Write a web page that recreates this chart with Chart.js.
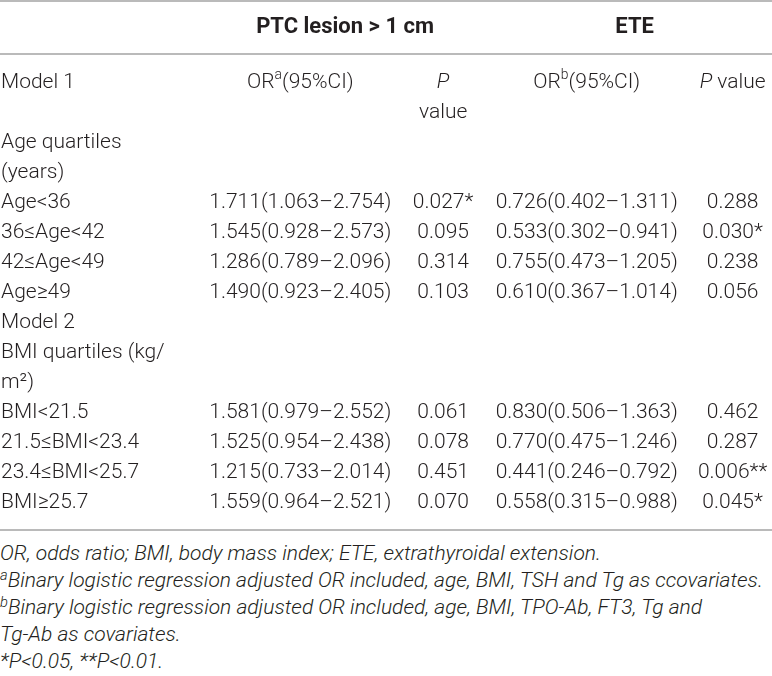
<!DOCTYPE html>
<html>
<head>
<meta charset="utf-8">
<title>PTC lesion and ETE odds ratios</title>
<script src="https://cdn.jsdelivr.net/npm/chart.js@4.4.1/dist/chart.umd.min.js"></script>
<style>
  body { margin: 0; background: #fff; }
  #wrap { position: relative; width: 772px; height: 540px; }
  .notes { font-family: Roboto, "Liberation Sans", sans-serif; font-weight: 300; font-style: italic;
           font-size: 21px; line-height: 27px; color: #231f20; width: 772px; }
  .notes p { margin: 0; white-space: nowrap; }
  .notes sup { font-size: 0.7em; line-height: 0; vertical-align: 0.45em; }
</style>
</head>
<body>
<div id="wrap"><canvas id="table"></canvas></div>
<div class="notes">
  <p>OR, odds ratio; BMI, body mass index; ETE, extrathyroidal extension.</p>
  <p><sup>a</sup>Binary logistic regression adjusted OR included, age, BMI, TSH and Tg as ccovariates.</p>
  <p><sup>b</sup>Binary logistic regression adjusted OR included, age, BMI, TPO-Ab, FT3, Tg and</p>
  <p>Tg-Ab as covariates.</p>
  <p>*P&lt;0.05, **P&lt;0.01.</p>
</div>
<script>
// table content
const rowLines = ["Model 1", "", "Age quartiles", "(years)", "Age<36", "36≤Age<42", "42≤Age<49", "Age≥49",
  "Model 2", "BMI quartiles (kg/", "m²)", "BMI<21.5", "21.5≤BMI<23.4", "23.4≤BMI<25.7", "BMI≥25.7"];
const groups = ["PTC lesion > 1 cm", "ETE"];
// ^x^ = superscript, _x_ = italic; one entry per text line
const colHeads = [["OR^a^(95%CI)"], ["_P_", "value"], ["OR^b^(95%CI)"], ["_P_ value"]];

const dataRows = ["Age<36", "36≤Age<42", "42≤Age<49", "Age≥49", "BMI<21.5", "21.5≤BMI<23.4", "23.4≤BMI<25.7", "BMI≥25.7"];
const orPTC = ["1.711(1.063–2.754)", "1.545(0.928–2.573)", "1.286(0.789–2.096)", "1.490(0.923–2.405)",
  "1.581(0.979–2.552)", "1.525(0.954–2.438)", "1.215(0.733–2.014)", "1.559(0.964–2.521)"];
const pPTC = ["0.027*", "0.095", "0.314", "0.103", "0.061", "0.078", "0.451", "0.070"];
const orETE = ["0.726(0.402–1.311)", "0.533(0.302–0.941)", "0.755(0.473–1.205)", "0.610(0.367–1.014)",
  "0.830(0.506–1.363)", "0.770(0.475–1.246)", "0.441(0.246–0.792)", "0.558(0.315–0.988)"];
const pETE = ["0.288", "0.030*", "0.238", "0.056", "0.462", "0.287", "0.006**", "0.045*"];

// layout: column centres in % of the table width
const colX = [38.9, 57.4, 76.0, 94.9];
const groupX = [44.7, 82.2];

const FAMILY = "Roboto, 'Liberation Sans', sans-serif";
const TEXT = "#231f20";
const RULE = "#a3a3a3";
const SIZE = 21;

// Draw one line of text with optional superscripts / italics, centred on x
function drawRich(ctx, str, x, y) {
  const parts = str.split(/(\^[^^]+\^|_[^_]+_)/).filter(s => s !== "").map(s => {
    if (s[0] === "^") return { t: s.slice(1, -1), font: `300 ${SIZE * 0.66}px ${FAMILY}`, dy: -7 };
    if (s[0] === "_") return { t: s.slice(1, -1), font: `italic 300 ${SIZE}px ${FAMILY}`, dy: 0 };
    return { t: s, font: `300 ${SIZE}px ${FAMILY}`, dy: 0 };
  });
  let total = 0;
  parts.forEach(p => { ctx.font = p.font; p.w = ctx.measureText(p.t).width; total += p.w; });
  let px = x - total / 2;
  ctx.textAlign = "left";
  ctx.textBaseline = "middle";
  parts.forEach(p => {
    ctx.font = p.font;
    ctx.fillText(p.t, px, y + p.dy);
    px += p.w;
  });
}

const tablePlugin = {
  id: "tableCells",
  afterDraw(chart) {
    const { ctx, chartArea, scales: { x, y } } = chart;
    ctx.save();

    // horizontal rules
    ctx.strokeStyle = RULE;
    ctx.lineWidth = 1.6;
    [1, chartArea.top - 14, chartArea.bottom + 12].forEach(ry => {
      ctx.beginPath();
      ctx.moveTo(0, ry);
      ctx.lineTo(chart.width, ry);
      ctx.stroke();
    });

    ctx.fillStyle = TEXT;
    // column headers (first body lines)
    colHeads.forEach((lines, c) => {
      lines.forEach((txt, k) => drawRich(ctx, txt, x.getPixelForValue(colX[c]), y.getPixelForValue(k)));
    });

    // cells
    const columns = [orPTC, pPTC, orETE, pETE];
    dataRows.forEach((label, r) => {
      const py = y.getPixelForValue(rowLines.indexOf(label));
      columns.forEach((col, c) => drawRich(ctx, col[r], x.getPixelForValue(colX[c]), py));
    });

    ctx.restore();
  }
};

const ctx = document.getElementById("table").getContext("2d");
new Chart(ctx, {
  type: "scatter",
  data: { datasets: [] },
  options: {
    responsive: true,
    maintainAspectRatio: false,
    animation: false,
    layout: { padding: { top: 0, left: 0, right: 0, bottom: 22 } },
    plugins: { legend: { display: false }, tooltip: { enabled: false } },
    scales: {
      x: {
        type: "linear",
        position: "top",
        min: 0,
        max: 100,
        afterBuildTicks: scale => { scale.ticks = groupX.map(v => ({ value: v })); },
        afterFit: scale => { scale.height = 68; },
        ticks: {
          callback: (value, index) => groups[index],
          font: { family: FAMILY, size: 22, weight: "bold" },
          color: TEXT,
          padding: 27,
          autoSkip: false,
          maxRotation: 0
        },
        grid: { display: false, drawTicks: false },
        border: { display: false }
      },
      y: {
        type: "category",
        labels: rowLines,
        position: "left",
        offset: true,
        afterFit: scale => { scale.width = 0; },
        ticks: {
          mirror: true,
          crossAlign: "near",
          font: { family: FAMILY, size: SIZE, weight: "300" },
          color: TEXT,
          padding: 1,
          autoSkip: false
        },
        grid: { display: false, drawTicks: false },
        border: { display: false }
      }
    }
  },
  plugins: [tablePlugin]
});
</script>
</body>
</html>
